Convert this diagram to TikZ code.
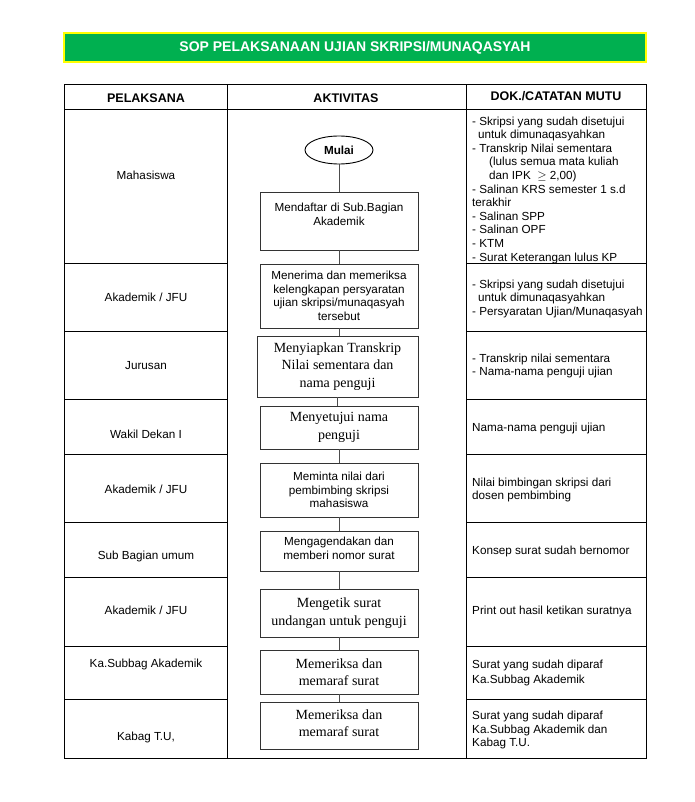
\documentclass[tikz,border=0pt]{standalone}
\usepackage{fontspec}
\setmainfont{Liberation Sans}
\newfontfamily\tnr{Liberation Serif}
\usetikzlibrary{shapes.geometric}

\definecolor{sopgreen}{HTML}{00B050}
\definecolor{sopyellow}{HTML}{FFFF00}

\tikzset{
  sans/.style={font=\fontsize{11.7}{13.6}\selectfont},
  serif/.style={font=\tnr\fontsize{14}{17.5}\selectfont},
  judulkol/.style={font=\bfseries\fontsize{12.5}{14}\selectfont},
  kotak/.style={draw=black!80, line width=0.9pt, fill=white, align=center,
    inner sep=0pt, minimum width=158pt},
  isi/.style={sans, anchor=north west, align=left, inner sep=0pt},
  alur/.style={draw=black!70, line width=0.9pt},
}

\begin{document}
\begin{tikzpicture}[x=1pt, y=-1pt]
  \useasboundingbox (0,0) rectangle (694,802);
  % judul
  \node[draw=sopyellow, line width=1.6pt, fill=sopgreen, text=white,
    minimum width=582pt, minimum height=29pt, inner sep=0pt,
    font=\bfseries\fontsize{14}{16}\selectfont] (judul) at (355,47.5)
    {SOP PELAKSANAAN UJIAN SKRIPSI/MUNAQASYAH};
  % garis tabel
  \draw[line width=1pt] (64,85) rectangle (646,758);
  \draw[line width=1pt] (227,85) -- (227,758) (466,85) -- (466,758);
  \draw[line width=1pt] (64,110) -- (646,110);
  \foreach \yy in {263,331,399,454,522,577,646,699} {
    \draw[line width=0.9pt] (64,\yy) -- (227,\yy);
    \draw[line width=0.9pt] (466,\yy) -- (646,\yy);
  }
  % kepala kolom
  \node[judulkol] (hpel) at (146,98) {PELAKSANA};
  \node[judulkol] (hakt) at (346,98.5) {AKTIVITAS};
  \node[judulkol] (hdok) at (556,96) {DOK./CATATAN MUTU};
  % pelaksana
  \foreach \yy/\teks [count=\i] in {175/Mahasiswa, 297/{Akademik / JFU},
      366/Jurusan, 434/{Wakil Dekan I}, 489/{Akademik / JFU},
      556/{Sub Bagian umum}, 610/{Akademik / JFU}, 664/{Ka.Subbag Akademik},
      737/{Kabag T.U,}}
    \node[sans] (p\i) at (146,\yy) {\teks};
  % aktivitas
  \node[draw=black, line width=0.9pt, ellipse, minimum width=68pt, minimum height=28pt,
    inner sep=0pt, font=\bfseries\fontsize{11.7}{13.6}\selectfont] (mulai) at (339,150) {Mulai};
  \node[kotak, sans, minimum height=58pt] (k1) at (339,221)
    {Mendaftar di Sub.Bagian\\Akademik\\~};
  \node[kotak, sans, minimum height=64pt] (k2) at (339,296)
    {Menerima dan memeriksa\\kelengkapan persyaratan\\ujian skripsi/munaqasyah\\tersebut};
  \node[kotak, serif, minimum height=61pt, minimum width=161pt] (k3) at (337.5,366.5)
    {Menyiapkan Transkrip\\Nilai sementara dan\\nama penguji};
  \node[kotak, serif, minimum height=43pt] (k4) at (339,427.5)
    {Menyetujui nama\\penguji};
  \node[kotak, sans, minimum height=54pt] (k5) at (339,490)
    {Meminta nilai dari\\pembimbing skripsi\\mahasiswa};
  \node[kotak, sans, minimum height=40pt] (k6) at (339,551)
    {Mengagendakan dan\\memberi nomor surat\\[-8pt]~};
  \node[kotak, serif, minimum height=48pt] (k7) at (339,613)
    {Mengetik surat\\undangan untuk penguji};
  \node[kotak, serif, minimum height=44pt] (k8) at (339,672)
    {Memeriksa dan\\memaraf surat};
  \node[kotak, serif, minimum height=47pt] (k9) at (339,725.5)
    {Memeriksa dan\\memaraf surat\\[-13pt]~};
  \foreach \a/\b in {mulai/k1, k1/k2, k2/k3, k3/k4, k4/k5, k5/k6, k6/k7, k7/k8, k8/k9}
    \draw[alur] (\a.south) -- (\a.south |- \b.north);
  % dokumen / catatan mutu
  \node[isi] (d1) at (472,116.5)
    {- Skripsi yang sudah disetujui\\
     \hspace*{6pt}untuk dimunaqasyahkan\\
     - Transkrip Nilai sementara\\
     \hspace*{17pt}(lulus semua mata kuliah\\
     \hspace*{17pt}dan IPK \ $\geq$ 2,00)\\
     - Salinan KRS semester 1 s.d\\
     terakhir\\
     - Salinan SPP\\
     - Salinan OPF\\
     - KTM\\
     - Surat Keterangan lulus KP};
  \node[isi] (d2) at (472,279.5)
    {- Skripsi yang sudah disetujui\\
     \hspace*{6pt}untuk dimunaqasyahkan\\
     - Persyaratan Ujian/Munaqasyah};
  \node[isi] (d3) at (472,353.5)
    {- Transkrip nilai sementara\\- Nama-nama penguji ujian};
  \node[isi] (d4) at (472,422.5) {Nama-nama penguji ujian};
  \node[isi] (d5) at (472,477.5) {Nilai bimbingan skripsi dari\\dosen pembimbing};
  \node[isi] (d6) at (472,545.5) {Konsep surat sudah bernomor};
  \node[isi] (d7) at (472,605.5) {Print out hasil ketikan suratnya};
  \node[isi] (d8) at (472,659.5) {Surat yang sudah diparaf\\[1.5pt]Ka.Subbag Akademik};
  \node[isi] (d9) at (472,711) {Surat yang sudah diparaf\\Ka.Subbag Akademik dan\\Kabag T.U.};
\end{tikzpicture}
\end{document}
